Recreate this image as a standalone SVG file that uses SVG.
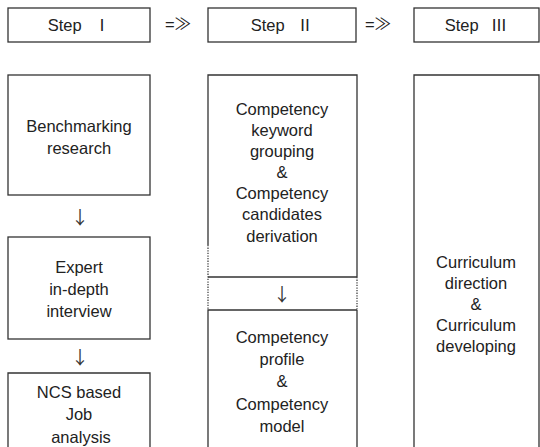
<svg xmlns="http://www.w3.org/2000/svg" width="540" height="447" viewBox="0 0 540 447">
<style>
.box{fill:#fff;stroke:#333;stroke-width:1.3}
.ln{stroke:#333;stroke-width:1.3;fill:none}
.dot{stroke:#444;stroke-width:1.3;stroke-dasharray:1.3 1.3;fill:none}
text{font-family:"Liberation Sans","Noto Sans CJK KR",Arial,sans-serif;font-size:16.5px;fill:#222;text-anchor:middle}
.arr{font-family:"Noto Sans CJK KR","DejaVu Sans",sans-serif;font-size:18px;fill:#333}
</style>
<rect width="540" height="447" fill="#fff"/>
<g id="step1"><rect class="box" x="8" y="8" width="142" height="34"/><text x="79" y="31">Step<tspan dx="12">Ⅰ</tspan></text></g>
<g id="step2"><rect class="box" x="208" y="8" width="148" height="34"/><text x="282" y="31">Step<tspan dx="12">Ⅱ</tspan></text></g>
<g id="step3"><rect class="box" x="414" y="8" width="125" height="34"/><text x="476" y="31">Step<tspan dx="12">Ⅲ</tspan></text></g>
<g id="benchmarking"><rect class="box" x="8" y="75" width="142" height="120"/>
<text x="79" y="132">Benchmarking</text><text x="79" y="154">research</text></g>
<g id="expert"><rect class="box" x="8" y="237" width="142" height="102"/>
<text x="79" y="273">Expert</text><text x="79" y="295">in-depth</text><text x="79" y="317">interview</text></g>
<g id="ncs"><path class="ln" d="M8,460 V373 H150 V460"/>
<text x="79" y="398">NCS  based</text><text x="79" y="420">Job</text><text x="81" y="443">analysis</text></g>
<g id="competency-candidates"><path class="ln" d="M208,245 V75 H357 V277 M208,277 H357"/><path class="dot" d="M208,245 V310 M357,277 V310"/>
<text x="282" y="115">Competency</text><text x="282" y="136">keyword</text><text x="282" y="157">grouping</text><text x="282" y="178">&amp;</text><text x="282" y="199">Competency</text><text x="282" y="220">candidates</text><text x="282" y="242">derivation</text></g>
<g id="competency-model"><path class="ln" d="M208,460 V310 H357 M357,310 V460"/>
<text x="282" y="343">Competency</text><text x="282" y="365">profile</text><text x="282" y="387">&amp;</text><text x="282" y="410">Competency</text><text x="282" y="432">model</text></g>
<g id="curriculum"><path class="ln" d="M414,460 V75 H539 V460"/>
<text x="476" y="268">Curriculum</text><text x="476" y="289">direction</text><text x="476" y="310">&amp;</text><text x="476" y="331">Curriculum</text><text x="476" y="352">developing</text></g>
<g id="connectors">
<text x="178" y="30">=≫</text><text x="378" y="30">=≫</text>
<text class="arr" x="80" y="224">↓</text>
<text class="arr" x="80" y="364">↓</text>
<text class="arr" x="282" y="301">↓</text>
</g>
</svg>
